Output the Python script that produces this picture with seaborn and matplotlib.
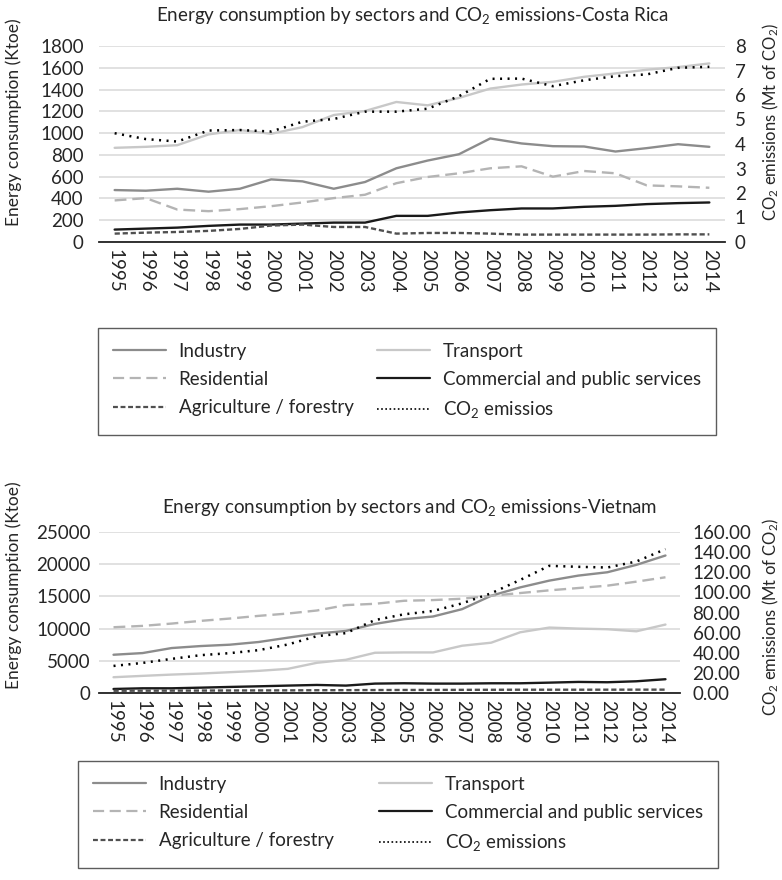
import matplotlib
matplotlib.use("Agg")
import matplotlib.pyplot as plt
from matplotlib.lines import Line2D
import seaborn as sns
import pandas as pd
import numpy as np

years = list(range(1995, 2015))

# Costa Rica (Ktoe, CO2 in Mt)
cr_industry = [477, 471, 489, 462, 489, 575, 557, 489, 551, 677, 748, 806, 951, 905, 880, 877, 831, 862, 898, 874]
cr_transport = [865, 874, 889, 988, 1028, 994, 1055, 1166, 1203, 1286, 1255, 1323, 1409, 1446, 1471, 1517, 1548, 1582, 1606, 1640]
cr_residential = [382, 403, 298, 283, 302, 329, 363, 403, 434, 540, 597, 631, 677, 695, 600, 652, 631, 520, 511, 498]
cr_commercial = [114, 123, 132, 148, 160, 160, 169, 178, 178, 240, 240, 271, 292, 308, 308, 323, 332, 348, 357, 363]
cr_agriculture = [77, 86, 92, 102, 120, 151, 160, 138, 138, 77, 83, 83, 77, 68, 68, 68, 68, 68, 70, 70]
cr_co2 = [4.44, 4.20, 4.10, 4.55, 4.57, 4.51, 4.91, 5.02, 5.32, 5.32, 5.44, 5.95, 6.66, 6.67, 6.36, 6.60, 6.77, 6.84, 7.11, 7.15]

# Vietnam (Ktoe, CO2 in Mt)
vn_industry = [5940, 6200, 6980, 7290, 7500, 7920, 8590, 9220, 9640, 10730, 11460, 11880, 13020, 15100, 16400, 17450, 18230, 18750, 19900, 21350]
vn_transport = [2450, 2660, 2860, 3020, 3230, 3440, 3750, 4690, 5160, 6250, 6300, 6300, 7340, 7810, 9430, 10160, 10000, 9900, 9580, 10630]
vn_residential = [10210, 10420, 10780, 11200, 11560, 11980, 12340, 12810, 13650, 13850, 14320, 14430, 14640, 15100, 15520, 15940, 16300, 16670, 17290, 17970]
vn_commercial = [625, 730, 730, 830, 940, 1040, 1150, 1250, 1150, 1460, 1510, 1460, 1460, 1510, 1510, 1610, 1720, 1670, 1820, 2140]
vn_agriculture = [350, 360, 370, 380, 390, 400, 410, 430, 440, 460, 470, 480, 490, 500, 510, 510, 510, 515, 520, 520]
vn_co2 = [26.9, 29.9, 33.9, 37.6, 39.6, 42.6, 48.2, 56.5, 59.5, 72.5, 78.2, 81.5, 89.1, 99.1, 112.4, 126.4, 125.4, 124.7, 130.7, 143.0]

sectors = ["Industry", "Transport", "Residential", "Commercial and public services", "Agriculture / forestry"]
colors = {
    "Industry": "#8c8c8c",
    "Transport": "#c8c8c8",
    "Residential": "#b4b4b4",
    "Commercial and public services": "#1a1a1a",
    "Agriculture / forestry": "#505050",
}
dashes = {
    "Industry": "",
    "Transport": "",
    "Residential": (5, 2.5),
    "Commercial and public services": "",
    "Agriculture / forestry": (2.2, 1.2),
}
co2_dash = (0.8, 2.2)

sns.set_style("white")
plt.rcParams["font.family"] = ["Lato", "DejaVu Sans"]
plt.rcParams["mathtext.default"] = "regular"
FS = 13.5
LAB = 12.5


def long_frame(series):
    rows = []
    for name, vals in zip(sectors, series):
        for y, v in zip(years, vals):
            rows.append({"year": y, "value": v, "sector": name})
    return pd.DataFrame(rows)


def draw_panel(ax, series, co2, ymax, ystep, co2max, co2step, co2fmt, lpad, rpad):
    df = long_frame(series)
    sns.lineplot(data=df, x="year", y="value", hue="sector", style="sector",
                 palette=colors, dashes=dashes, linewidth=1.7, ax=ax, legend=False)
    ax.set_xlim(1994.5, 2014.5)
    ax.set_ylim(0, ymax)
    ax.set_yticks(np.arange(0, ymax + 1, ystep))
    ax.set_xticks(years)
    ax.set_xticklabels([str(y) for y in years], rotation=-90, fontsize=FS)
    ax.tick_params(axis="y", labelsize=FS, length=0, pad=lpad)
    ax.tick_params(axis="x", length=0, pad=5)
    ax.grid(axis="y", color="#d9d9d9", linewidth=1.1)
    ax.set_axisbelow(True)
    for s in ["top", "left", "right"]:
        ax.spines[s].set_visible(False)
    ax.spines["bottom"].set_color("#222222")
    ax.spines["bottom"].set_linewidth(1.3)
    ax.set_xlabel("")
    ax.set_ylabel("")

    ax2 = ax.twinx()
    sns.lineplot(x=years, y=co2, ax=ax2, color="black", linewidth=1.8,
                 linestyle=(0, co2_dash))
    ax2.set_ylim(0, co2max)
    ticks = np.arange(0, co2max + 0.001, co2step)
    ax2.set_yticks(ticks)
    ax2.set_yticklabels([co2fmt.format(v) for v in ticks])
    ax2.tick_params(axis="y", labelsize=FS, length=0, pad=rpad)
    ax2.grid(False)
    for s in ax2.spines.values():
        s.set_visible(False)
    ax2.set_ylabel("")
    return ax2


def make_legend(fig, rect, co2_label):
    h = {}
    for name in sectors:
        d = dashes[name]
        ls = "-" if d == "" else (0, d)
        h[name] = Line2D([], [], color=colors[name], linewidth=1.6, linestyle=ls)
    h_co2 = Line2D([], [], color="black", linewidth=1.2, linestyle=(0, (1, 1.5)))
    handles = [h["Industry"], h["Residential"], h["Agriculture / forestry"],
               h["Transport"], h["Commercial and public services"], h_co2]
    labels = ["Industry", "Residential", "Agriculture / forestry",
              "Transport", "Commercial and public services", co2_label]
    leg = fig.legend(handles, labels, ncol=2, loc="center", bbox_to_anchor=rect,
                     mode="expand", borderaxespad=0, fontsize=FS, frameon=True,
                     fancybox=False, handlelength=2.8, labelspacing=0.6,
                     borderpad=0.8, columnspacing=1.2, handletextpad=0.7)
    frame = leg.get_frame()
    frame.set_edgecolor("#333333")
    frame.set_linewidth(1.0)
    return leg


fig = plt.figure(figsize=(7.82, 8.8), dpi=100)

# Costa Rica
ax_cr = fig.add_axes([99 / 782, 1 - 242 / 880, (725 - 99) / 782, (242 - 46) / 880])
draw_panel(ax_cr, [cr_industry, cr_transport, cr_residential, cr_commercial, cr_agriculture],
           cr_co2, 1800, 200, 8, 1, "{:.0f}", 11, 7)
fig.text(412 / 782, 1 - 15 / 880, "Energy consumption by sectors and CO$_2$ emissions-Costa Rica",
         ha="center", va="center", fontsize=FS)
fig.text(14 / 782, 1 - 122 / 880, "Energy consumption (Ktoe)", rotation=90,
         ha="center", va="center", fontsize=LAB)
fig.text(771 / 782, 1 - 122 / 880, "CO$_2$ emissions (Mt of CO$_2$)", rotation=90,
         ha="center", va="center", fontsize=LAB - 0.5)
make_legend(fig, (98 / 782, 1 - 435 / 880, (716 - 98) / 782, (435 - 328) / 880), "CO$_2$ emissios")

# Vietnam
ax_vn = fig.add_axes([99 / 782, 1 - 693 / 880, (680 - 99) / 782, (693 - 532) / 880])
draw_panel(ax_vn, [vn_industry, vn_transport, vn_residential, vn_commercial, vn_agriculture],
           vn_co2, 25000, 5000, 160, 20, "{:.2f}", 6, 9)
fig.text(410 / 782, 1 - 507 / 880, "Energy consumption by sectors and CO$_2$ emissions-Vietnam",
         ha="center", va="center", fontsize=FS)
fig.text(14 / 782, 1 - 585 / 880, "Energy consumption (Ktoe)", rotation=90,
         ha="center", va="center", fontsize=LAB)
fig.text(771 / 782, 1 - 617 / 880, "CO$_2$ emissions (Mt of CO$_2$)", rotation=90,
         ha="center", va="center", fontsize=LAB - 0.5)
make_legend(fig, (78 / 782, 1 - 872 / 880, (718 - 78) / 782, (872 - 757) / 880), "CO$_2$ emissions")

fig.savefig("out.png", dpi=100)
